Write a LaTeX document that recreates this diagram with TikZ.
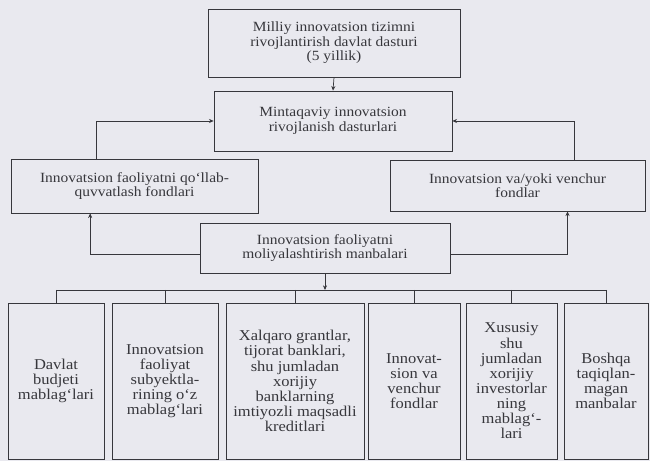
\documentclass[tikz,border=0pt]{standalone}
\usepackage{fontspec}
\setmainfont{Liberation Serif}[FakeStretch=1.1]
\usetikzlibrary{arrows.meta}
\definecolor{paper}{RGB}{233,233,239}
\definecolor{ink}{RGB}{55,55,60}
\begin{document}
\begin{tikzpicture}
  [x=0.03cm,y=-0.03cm,color=ink,line width=.6pt,
   every node/.style={draw,align=center,inner sep=2pt,font=\fontsize{12}{12.4}\selectfont},
   src/.style={minimum height=4.68cm,font=\fontsize{12.8}{12.9}\selectfont},
   arr/.style={-{Stealth[length=4pt,width=3.5pt]}}]
  \fill[paper] (0,0) rectangle (650,461);
  \useasboundingbox (0,0) rectangle (650,461);
  \node[minimum width=7.56cm,minimum height=2.04cm] (prog) at (334,43)
    {Milliy innovatsion tizimni\\rivojlantirish davlat dasturi\\(5 yillik)};
  \node[minimum width=7.14cm,minimum height=1.8cm] (reg) at (333,121)
    {Mintaqaviy innovatsion\\rivojlanish dasturlari};
  \node[minimum width=7.41cm,minimum height=1.62cm] (qfond) at (134.5,186)
    {Innovatsion faoliyatni qo‘llab-\\quvvatlash fondlari};
  \node[minimum width=7.65cm,minimum height=1.53cm] (vfond) at (517.5,185.5)
    {Innovatsion va/yoki venchur\\fondlar};
  \node[minimum width=7.5cm,minimum height=1.5cm] (manba) at (325,248)
    {Innovatsion faoliyatni\\moliyalashtirish manbalari};
  \node[src,minimum width=2.88cm] (b1) at (56,381) {Davlat\\budjeti\\mablag‘lari};
  \node[src,minimum width=3.18cm] (b2) at (165,381)
    {Innovatsion\\faoliyat\\subyektla-\\rining o‘z\\mablag‘lari};
  \node[src,minimum width=4.14cm] (b3) at (295,381)
    {Xalqaro grantlar,\\tijorat banklari,\\shu jumladan\\xorijiy\\banklarning\\imtiyozli maqsadli\\kreditlari};
  \node[src,minimum width=2.76cm] (b4) at (414,381) {Innovat-\\sion va\\venchur\\fondlar};
  \node[src,minimum width=2.73cm] (b5) at (511.5,381)
    {Xususiy\\shu\\jumladan\\xorijiy\\investorlar\\ning\\mablag‘-\\lari};
  \node[src,minimum width=2.52cm] (b6) at (606,381) {Boshqa\\taqiqlan-\\magan\\manbalar};
  \coordinate (bus) at (325,290);
  \draw[arr] (prog.south) -- (reg.north);
  \draw[arr] ([xshift=-1.15cm]qfond.north) |- (reg.west);
  \draw[arr] ([xshift=1.7cm]vfond.north) |- (reg.east);
  \draw[arr] ([yshift=-0.2cm]manba.west) -| ([xshift=-1.33cm]qfond.south);
  \draw[arr] ([yshift=-0.18cm]manba.east) -| ([xshift=1.5cm]vfond.south);
  \draw[arr] (manba.south) -- (manba.south |- bus);
  \draw (b1.north |- bus) -- (b6.north |- bus);
  \foreach \b in {b1,b2,b3,b4,b5,b6}
    \draw (\b.north |- bus) -- (\b.north);
\end{tikzpicture}
\end{document}
